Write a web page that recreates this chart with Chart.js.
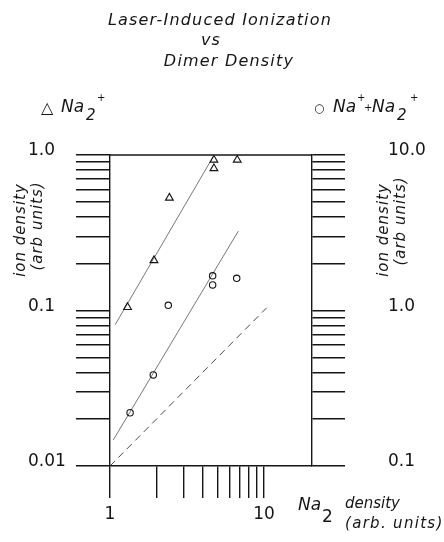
<!DOCTYPE html>
<html lang="en">
<head>
  <meta charset="UTF-8" />
  <title>Laser-Induced Ionization vs Dimer Density</title>
  <script src="https://cdn.jsdelivr.net/npm/chart.js"></script>
  <style>
    body { margin: 0; background: #fff; }
    canvas { display: block; }
  </style>
</head>
<body>
  <canvas id="grafico" width="444" height="542"></canvas>

  <script>
    // Na2+ (triangles, left axis)
    const triX = [1.30, 1.93, 2.43, 4.73, 4.73, 6.70];
    const triY = [0.105, 0.21, 0.53, 0.93, 0.82, 0.93];

    // Na+ + Na2+ (circles, right axis)
    const circX = [1.35, 1.91, 2.39, 4.64, 4.64, 6.65];
    const circY = [0.22, 0.385, 1.08, 1.67, 1.46, 1.61];

    // fitted lines (end points)
    const triFitX = [1.08, 4.66];
    const triFitY = [0.081, 0.97];
    const circFitX = [1.05, 6.81];
    const circFitY = [0.147, 3.24];
    // dashed slope-1 reference line
    const refX = [1, 10.4];
    const refY = [0.01, 0.104];

    // ticks
    const xTicks = [1, 2, 3, 4, 5, 6, 7, 8, 9, 10];
    const leftTicks = [0.01, 0.02, 0.03, 0.04, 0.05, 0.06, 0.07, 0.08, 0.09,
                       0.1, 0.2, 0.3, 0.4, 0.5, 0.6, 0.7, 0.8, 0.9, 1];
    const rightTicks = [0.1, 0.2, 0.3, 0.4, 0.5, 0.6, 0.7, 0.8, 0.9,
                        1, 2, 3, 4, 5, 6, 7, 8, 9, 10];
    const xLabels = { 1: '1', 10: '10' };
    const leftLabels = { 0.01: '0.01', 0.1: '0.1', 1: '1.0' };
    const rightLabels = { 0.1: '0.1', 1: '1.0', 10: '10.0' };

    const fam = "'DejaVu Sans', sans-serif";
    const ink = '#151515';

    function pts(xs, ys) {
      return xs.map((x, i) => ({ x: x, y: ys[i] }));
    }

    function font(size, italic) {
      return (italic ? 'italic ' : '') + size + 'px ' + fam;
    }

    function txt(ctx, t, x, y, size, italic, spacing) {
      ctx.font = font(size, italic);
      ctx.letterSpacing = (spacing || 0) + 'px';
      ctx.fillText(t, x, y);
    }

    function txtRot(ctx, t, x, y, size, spacing) {
      ctx.save();
      ctx.translate(x, y);
      ctx.rotate(-Math.PI / 2);
      ctx.textAlign = 'center';
      txt(ctx, t, 0, 0, size, true, spacing);
      ctx.restore();
    }

    // titles, legend labels, axis titles and the top border
    const textos = {
      id: 'textos',
      afterDraw(chart) {
        const ctx = chart.ctx;
        const a = chart.chartArea;
        ctx.save();

        ctx.strokeStyle = ink;
        ctx.lineWidth = 1.4;
        ctx.beginPath();
        ctx.moveTo(a.left, a.top);
        ctx.lineTo(a.right, a.top);
        ctx.stroke();

        ctx.fillStyle = ink;
        ctx.textBaseline = 'alphabetic';

        ctx.textAlign = 'center';
        txt(ctx, 'Laser-Induced Ionization', 220, 25, 16, true, 1.2);
        txt(ctx, 'vs', 211, 45, 16, true, 1.2);
        txt(ctx, 'Dimer Density', 229, 66, 16, true, 1.2);

        ctx.textAlign = 'left';
        // left legend
        txt(ctx, '\u25B3', 41, 113, 16, false);
        txt(ctx, 'Na', 61, 112, 17, true);
        txt(ctx, '2', 86, 120, 15, true);
        txt(ctx, '+', 97, 101, 10, false);
        // right legend
        txt(ctx, '\u25CB', 314, 112, 12, false);
        txt(ctx, 'Na', 333, 112, 17, true);
        txt(ctx, '+', 357, 101, 10, false);
        txt(ctx, '+', 364, 111, 10, false);
        txt(ctx, 'Na', 372, 112, 17, true);
        txt(ctx, '2', 397, 120, 15, true);
        txt(ctx, '+', 410, 101, 10, false);

        // axis titles
        txtRot(ctx, 'ion density', 25, 230, 15, 1);
        txtRot(ctx, '(arb units)', 42, 226, 15, 1);
        txtRot(ctx, 'ion density', 388, 230, 15, 1);
        txtRot(ctx, '(arb units)', 405, 221, 15, 1);

        txt(ctx, 'Na', 298, 510, 17, true);
        txt(ctx, '2', 322, 522, 17, false);
        txt(ctx, 'density', 345, 508, 15, true);
        txt(ctx, '(arb. units)', 345, 528, 15, true, 1.3);

        ctx.restore();
      }
    };

    const axisGrid = (len) => ({
      drawOnChartArea: false,
      drawTicks: true,
      tickLength: len,
      color: ink,
      lineWidth: 1.4
    });
    const axisBorder = { display: true, color: ink, width: 1.4 };
    const tickFont = { family: fam, size: 17 };

    const ctx = document.getElementById('grafico').getContext('2d');

    new Chart(ctx, {
      type: 'scatter',
      data: {
        datasets: [
          {
            label: 'Na2+',
            data: pts(triX, triY),
            yAxisID: 'y',
            pointStyle: 'triangle',
            pointRadius: 4.5,
            borderColor: ink,
            backgroundColor: 'rgba(0,0,0,0)',
            borderWidth: 1.1
          },
          {
            label: 'Na+ + Na2+',
            data: pts(circX, circY),
            yAxisID: 'y2',
            pointStyle: 'circle',
            pointRadius: 3.2,
            borderColor: ink,
            backgroundColor: 'rgba(0,0,0,0)',
            borderWidth: 1.1
          },
          {
            label: 'fit Na2+',
            data: pts(triFitX, triFitY),
            yAxisID: 'y',
            showLine: true,
            pointRadius: 0,
            borderColor: '#555',
            borderWidth: 0.8
          },
          {
            label: 'fit Na+ + Na2+',
            data: pts(circFitX, circFitY),
            yAxisID: 'y2',
            showLine: true,
            pointRadius: 0,
            borderColor: '#555',
            borderWidth: 0.8
          },
          {
            label: 'slope 1',
            data: pts(refX, refY),
            yAxisID: 'y',
            showLine: true,
            pointRadius: 0,
            borderColor: '#333',
            borderWidth: 0.9,
            borderDash: [7, 5]
          }
        ]
      },
      options: {
        responsive: false,
        animation: false,
        layout: { padding: { left: 28, top: 155, right: 0, bottom: 0 } },
        plugins: {
          legend: { display: false },
          tooltip: { enabled: false }
        },
        scales: {
          x: {
            type: 'logarithmic',
            position: 'bottom',
            min: 1,
            max: 20.5,
            afterBuildTicks: s => { s.ticks = xTicks.map(v => ({ value: v })); },
            afterFit: s => { s.height = 76; },
            ticks: {
              callback: v => xLabels[v] || '',
              autoSkip: false,
              maxRotation: 0,
              padding: 6,
              color: ink,
              font: tickFont
            },
            grid: axisGrid(32),
            border: axisBorder
          },
          y: {
            type: 'logarithmic',
            position: 'left',
            min: 0.01,
            max: 1,
            afterBuildTicks: s => { s.ticks = leftTicks.map(v => ({ value: v })); },
            afterFit: s => { s.width = 82; },
            ticks: {
              callback: v => leftLabels[v] || '',
              autoSkip: false,
              crossAlign: 'far',
              labelOffset: -4,
              color: ink,
              font: tickFont
            },
            grid: axisGrid(34),
            border: axisBorder
          },
          y2: {
            type: 'logarithmic',
            position: 'right',
            min: 0.1,
            max: 10,
            afterBuildTicks: s => { s.ticks = rightTicks.map(v => ({ value: v })); },
            afterFit: s => { s.width = 132; },
            ticks: {
              callback: v => rightLabels[v] || '',
              autoSkip: false,
              padding: 43,
              labelOffset: -4,
              color: ink,
              font: tickFont
            },
            grid: axisGrid(33),
            border: axisBorder
          }
        }
      },
      plugins: [textos]
    });
  </script>
</body>
</html>
